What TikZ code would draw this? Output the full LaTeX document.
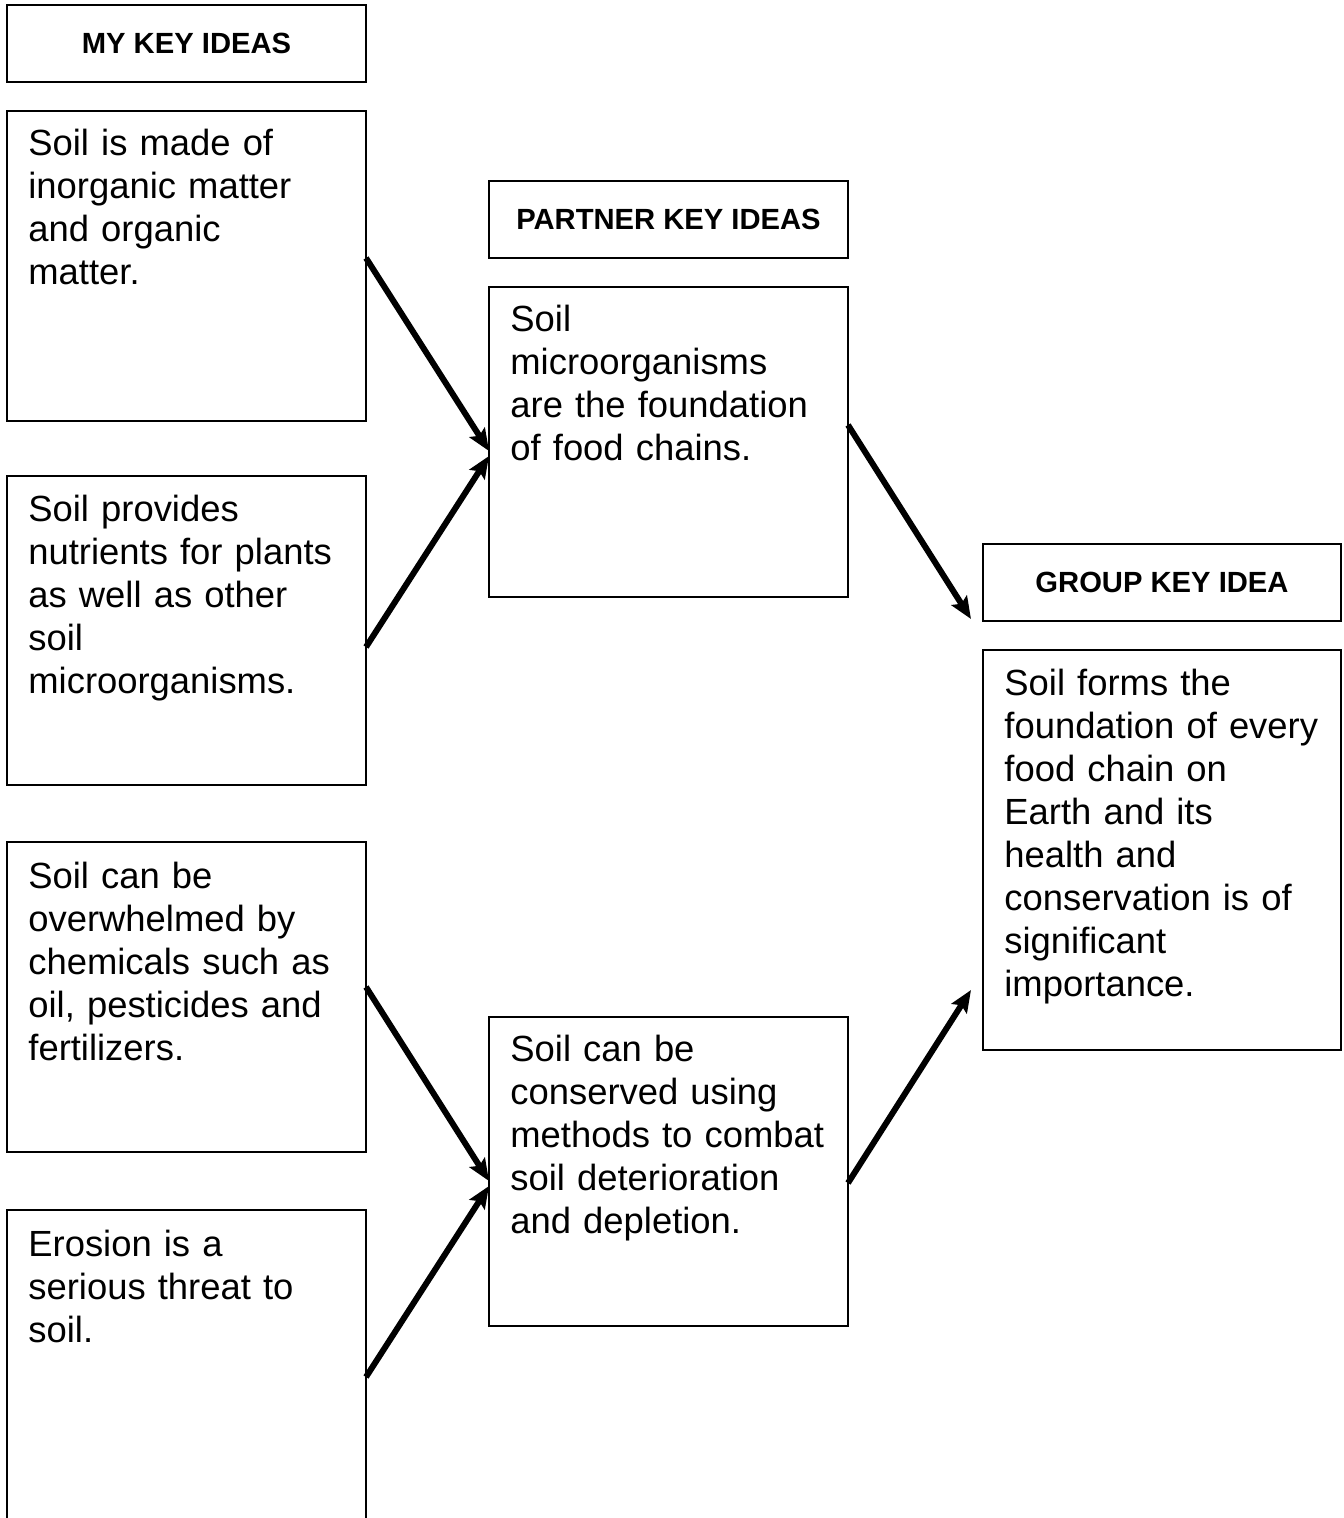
\documentclass[tikz,border=0pt]{standalone}
\usepackage{fontspec}
\setmainfont{Liberation Sans}
\usetikzlibrary{arrows.meta}
\begin{document}
\begin{tikzpicture}[x=0.5pt,y=-0.5pt,
  box/.style={draw=black,line width=1pt},
  body/.style={anchor=base west,inner sep=0pt,text width=170pt,align=left,
    font=\fontsize{18.2pt}{21.5pt}\selectfont},
  head/.style={inner sep=0pt,font=\fontsize{14.6pt}{17pt}\selectfont\bfseries},
  arr/.style={line width=3pt,-{Stealth[length=11pt,width=9pt,inset=2pt]}}]
\useasboundingbox (0,0) rectangle (1343,1518);
\begin{scope}
\clip (0,0) rectangle (1343,1518);
% left column
\draw[box] (7,5) rectangle (366,82);
\node[head] (myh) at (186.5,43.5) {MY KEY IDEAS};
\draw[box] (7,111) rectangle (366,421);
\node[body] (m1) at (28,156) {Soil is made of\\inorganic matter\\and organic\\matter.};
\draw[box] (7,476) rectangle (366,785);
\node[body] (m2) at (28,521) {Soil provides\\nutrients for plants\\as well as other\\soil\\microorganisms.};
\draw[box] (7,842) rectangle (366,1152);
\node[body] (m3) at (28,888) {Soil can be\\overwhelmed by\\chemicals such as\\oil, pesticides and\\fertilizers.};
\draw[box] (7,1210) rectangle (366,1540);
\node[body] (m4) at (28,1256) {Erosion is a\\serious threat to\\soil.};
% middle column
\draw[box] (489,181) rectangle (848,258);
\node[head] (ph) at (668.5,219.5) {PARTNER KEY IDEAS};
\draw[box] (489,287) rectangle (848,597);
\node[body] (p1) at (510,332) {Soil\\microorganisms\\are the foundation\\of food chains.};
\draw[box] (489,1017) rectangle (848,1326);
\node[body] (p2) at (510,1061) {Soil can be\\conserved using\\methods to combat\\soil deterioration\\and depletion.};
% right column
\draw[box] (983,544) rectangle (1341,621);
\node[head] (gh) at (1162,582.5) {GROUP KEY IDEA};
\draw[box] (983,650) rectangle (1341,1050);
\node[body] (g1) at (1004,695) {Soil forms the\\foundation of every\\food chain on\\Earth and its\\health and\\conservation is of\\significant\\importance.};
\end{scope}
% connector end points
\coordinate (a1s) at (366,258); \coordinate (a1e) at (489,451);
\coordinate (a2s) at (366,647); \coordinate (a2e) at (489,456);
\coordinate (a3s) at (848,425); \coordinate (a3e) at (971,619);
\coordinate (a4s) at (366,987); \coordinate (a4e) at (489,1181);
\coordinate (a5s) at (366,1377); \coordinate (a5e) at (489,1186);
\coordinate (a6s) at (848,1183); \coordinate (a6e) at (971,990);
\draw[arr] (a1s) -- (a1e);
\draw[arr] (a2s) -- (a2e);
\draw[arr] (a3s) -- (a3e);
\draw[arr] (a4s) -- (a4e);
\draw[arr] (a5s) -- (a5e);
\draw[arr] (a6s) -- (a6e);
\end{tikzpicture}
\end{document}
